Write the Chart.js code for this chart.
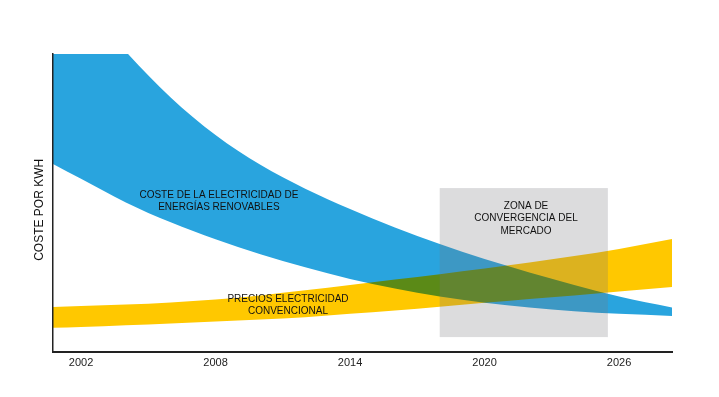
<!DOCTYPE html>
<html>
<head>
<meta charset="utf-8">
<script src="https://cdn.jsdelivr.net/npm/chart.js@4/dist/chart.umd.min.js"></script>
<style>
html,body{margin:0;padding:0;background:#fff;}
#wrap{width:719px;height:397px;}
</style>
</head>
<body>
<div id="wrap"><canvas id="c" width="719" height="397"></canvas></div>
<script>
// ---- data ----
const years = [2000.75, 2002, 2004, 2006, 2008, 2010, 2012, 2014, 2016, 2018, 2020, 2022, 2024, 2026, 2028.36];
const renewableHigh = [131.5, 118.1, 100.8, 85.4, 72.8, 62.8, 54.8, 48.0, 41.8, 36.2, 31.2, 26.7, 22.5, 18.6, 14.9];
const renewableLow  = [63.1, 58.1, 50.2, 43.5, 37.8, 32.8, 28.4, 24.5, 21.3, 18.6, 16.5, 14.9, 13.7, 12.8, 12.1];
const conventionalHigh = [15.1, 15.4, 15.9, 16.6, 17.6, 19.0, 20.7, 22.5, 24.3, 26.1, 28.0, 30.0, 32.2, 34.6, 37.9];
const conventionalLow  = [8.1, 8.4, 9.0, 9.6, 10.2, 10.9, 11.7, 12.8, 13.9, 15.2, 16.5, 17.8, 19.0, 20.3, 21.8];
const tickYears = [2002, 2008, 2014, 2020, 2026];
const zoneYears = [2018.0, 2025.5];
const zoneCost = [5.0, 55.0];
const renewableText = ['COSTE DE LA ELECTRICIDAD DE', 'ENERGÍAS RENOVABLES'];
const conventionalText = ['PRECIOS ELECTRICIDAD', 'CONVENCIONAL'];
const zoneText = ['ZONA DE', 'CONVERGENCIA DEL', 'MERCADO'];
const yTitle = 'COSTE POR KWH';

const xMin = 2000.75, xMax = 2028.36;
const BLUE = '#29a4de', YELLOW = '#ffc800', GREEN = '#5b8a17', GRAY = '#dcdcde';
const FONT = '"Liberation Sans", Arial, sans-serif';

const pts = arr => years.map((yr, i) => ({x: yr, y: arr[i]}));
const band = (data, color, fill) => ({
  data: pts(data), backgroundColor: color, borderColor: color, borderWidth: 0,
  pointRadius: 0, fill: fill, cubicInterpolationMode: 'monotone'
});

const blendPlugin = {
  id: 'blendPlugin',
  beforeDatasetsDraw(chart) { chart.ctx.globalCompositeOperation = 'source-over'; },
  afterDatasetDraw(chart, args) {
    const ctx = chart.ctx;
    if (args.index === 4) ctx.globalCompositeOperation = 'source-atop';
    else if (args.index === 2) ctx.globalCompositeOperation = 'destination-over';
    else if (args.index === 0) ctx.globalCompositeOperation = 'source-over';
  },
  afterDatasetsDraw(chart) {
    const {ctx, scales: {x, y}} = chart;
    const x0 = x.getPixelForValue(zoneYears[0]), x1 = x.getPixelForValue(zoneYears[1]);
    const y0 = y.getPixelForValue(zoneCost[1]), y1 = y.getPixelForValue(zoneCost[0]);
    ctx.save();
    ctx.globalCompositeOperation = 'multiply';
    ctx.fillStyle = GRAY;
    ctx.fillRect(x0, y0, x1 - x0, y1 - y0);
    ctx.globalCompositeOperation = 'source-over';
    ctx.globalAlpha = 0.14;
    ctx.fillRect(x0, y0, x1 - x0, y1 - y0);
    ctx.restore();
  },
  afterDraw(chart) {
    const {ctx, scales: {x, y}} = chart;
    ctx.save();
    ctx.fillStyle = '#111';
    ctx.textAlign = 'center';
    ctx.textBaseline = 'middle';
    ctx.font = '10px ' + FONT;
    const block = (lines, yr, val, gap) => {
      const px = x.getPixelForValue(yr), py = y.getPixelForValue(val);
      lines.forEach((t, i) => ctx.fillText(t, px, py + i * gap));
    };
    block(renewableText, 2008.15, 52.7, 12);
    block(conventionalText, 2011.23, 17.8, 12.5);
    block(zoneText, 2021.85, 49.0, 12.5);
    ctx.font = '12px ' + FONT;
    ctx.translate(40, y.getPixelForValue(47.7));
    ctx.rotate(-Math.PI / 2);
    ctx.fillText(yTitle, 0, 0);
    ctx.restore();
  }
};

new Chart(document.getElementById('c'), {
  type: 'line',
  data: {
    datasets: [
      band(conventionalLow, YELLOW, false),      // 0
      band(conventionalHigh, YELLOW, 0),         // 1
      band(conventionalLow, GREEN, false),       // 2
      band(conventionalHigh, GREEN, 2),          // 3
      band(renewableLow, BLUE, false),           // 4
      band(renewableHigh, BLUE, 4)               // 5
    ]
  },
  options: {
    responsive: false,
    animation: false,
    devicePixelRatio: 1,
    layout: {padding: {top: 54, right: 47, bottom: 0, left: 0}},
    plugins: {legend: {display: false}, tooltip: {enabled: false}},
    events: [],
    scales: {
      x: {
        type: 'linear', min: xMin, max: xMax,
        grid: {display: false, drawTicks: false},
        border: {display: true, color: '#222', width: 2, z: 1},
        ticks: {
          autoSkip: false, maxRotation: 0, padding: 4, color: '#222',
          font: {family: FONT, size: 11},
          callback: v => String(v)
        },
        afterBuildTicks: s => { s.ticks = tickYears.map(v => ({value: v})); },
        afterFit: s => { s.height = 45; }
      },
      y: {
        type: 'linear', min: 0, max: 100,
        grid: {display: false, drawTicks: false},
        border: {display: true, color: '#222', width: 1.5, z: 1},
        ticks: {display: false},
        afterFit: s => { s.width = 53; }
      }
    }
  },
  plugins: [blendPlugin]
});
</script>
</body>
</html>
